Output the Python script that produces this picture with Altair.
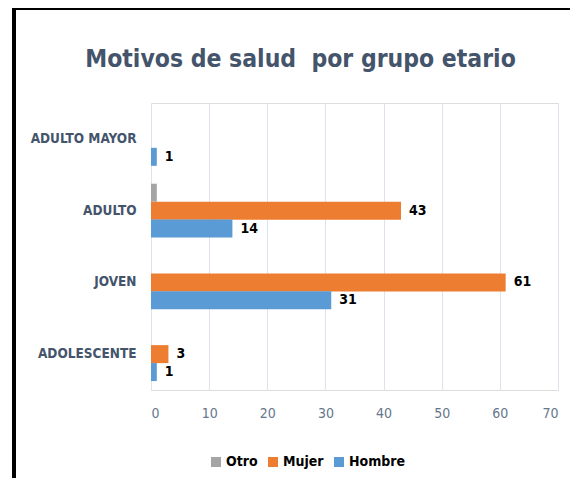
import altair as alt
import pandas as pd

grupos = ["ADULTO MAYOR", "ADULTO", "JOVEN", "ADOLESCENTE"]
series = ["Otro", "Mujer", "Hombre"]
colores = ["#A5A5A5", "#ED7D31", "#5B9BD5"]
otro = [0, 1, 0, 0]
mujer = [0, 43, 61, 3]
hombre = [1, 14, 31, 1]
x_ticks = [0, 10, 20, 30, 40, 50, 60, 70]
titulo = "Motivos de salud \u00a0por grupo etario"

rows = []
for i, g in enumerate(grupos):
    for s, vals in zip(series, [otro, mujer, hombre]):
        v = vals[i]
        if v > 0:
            rows.append({"grupo": g, "serie": s, "valor": v,
                         "etiqueta": str(v) if s != "Otro" else ""})
df = pd.DataFrame(rows)

FONT = "'DejaVu Sans Condensed', Lato, sans-serif"

y_enc = alt.Y("grupo:N", sort=grupos, title=None,
              scale=alt.Scale(paddingInner=0.25, paddingOuter=0.125),
              axis=alt.Axis(labelFont=FONT, labelFontSize=13.5, labelFontWeight="bold",
                            labelColor="#44546A", labelPadding=15, ticks=False,
                            domain=False, grid=False))
x_enc = alt.X("valor:Q", title=None,
              scale=alt.Scale(domain=[0, 70], nice=False),
              axis=alt.Axis(values=x_ticks, labelFont=FONT, labelFontSize=14,
                            labelColor="#66768C", labelPadding=16, ticks=False,
                            domain=False, grid=True, gridColor="#DCE3EC",
                            gridWidth=1))
yoff = alt.YOffset("serie:N", sort=series)

bars = alt.Chart(df).mark_bar(size=18).encode(
    x=x_enc, y=y_enc, yOffset=yoff,
    color=alt.Color("serie:N", sort=series,
                    scale=alt.Scale(domain=series, range=colores),
                    legend=alt.Legend(title=None, orient="none", direction="horizontal",
                                      legendX=58, legendY=352, symbolType="square",
                                      symbolSize=100, symbolStrokeWidth=0,
                                      labelFont=FONT, labelFontSize=14,
                                      labelFontWeight="bold", labelColor="#000000",
                                      columnPadding=8, labelOffset=3)),
)

labels = alt.Chart(df).mark_text(align="left", baseline="middle", dx=8,
                                 font=FONT, fontSize=14, fontWeight="bold",
                                 color="#000000").encode(
    x="valor:Q", y=alt.Y("grupo:N", sort=grupos), yOffset=yoff,
    text="etiqueta:N",
)

frame_left = alt.Chart(df).mark_rule(color="#000000", strokeWidth=3).encode(
    x=alt.value(-137), y=alt.value(-95), y2=alt.value(390))
frame_top = alt.Chart(df).mark_rule(color="#000000", strokeWidth=3).encode(
    x=alt.value(-138), x2=alt.value(430), y=alt.value(-95))

chart = alt.layer(bars, labels, frame_left, frame_top).properties(
    width=407, height=287,
    autosize=alt.AutoSizeParams(type="none"),
    padding={"left": 143, "top": 95, "right": 12, "bottom": 88},
    title=alt.TitleParams(titulo, font=FONT,
                          fontSize=24.5, fontWeight="bold", color="#44546A",
                          anchor="middle", frame="group", dx=-54, offset=-66),
).configure_view(stroke=None).configure(background="white")

chart.save("out.html", embed_options={"renderer": "svg", "actions": False})
